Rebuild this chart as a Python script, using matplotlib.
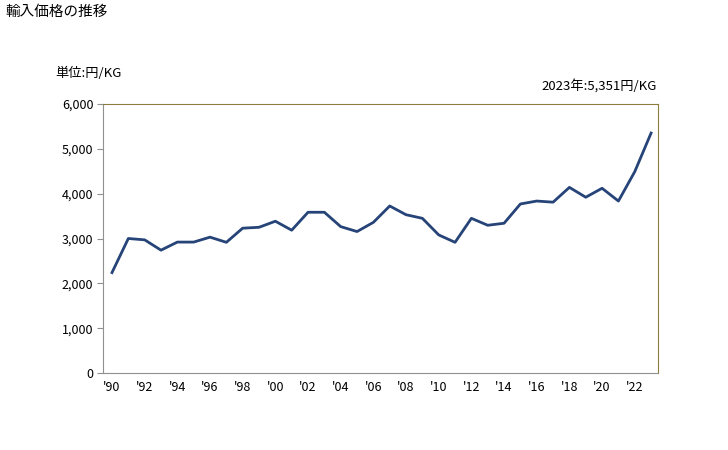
import matplotlib.pyplot as plt
from matplotlib.ticker import FuncFormatter

plt.rcParams['font.family'] = ['Noto Sans CJK JP', 'DejaVu Sans']

years = list(range(1990, 2024))
prices = [2240, 3000, 2970, 2740, 2920, 2920, 3030, 2915, 3230, 3250,
          3385, 3185, 3585, 3585, 3265, 3155, 3360, 3725, 3530, 3450,
          3080, 2915, 3450, 3295, 3340, 3770, 3835, 3810, 4140, 3920,
          4120, 3835, 4490, 5351]
xtick_years = list(range(1990, 2024, 2))
yticks = [0, 1000, 2000, 3000, 4000, 5000, 6000]

fig = plt.figure(figsize=(7.28, 4.5), dpi=100)
ax = fig.add_axes([0.1415, 0.171, 0.7625, 0.598])

ax.plot(years, prices, color='#264478', linewidth=2.0)

ax.set_xlim(1989.45, 2023.43)
ax.set_ylim(0, 6000)
ax.set_yticks(yticks)
ax.yaxis.set_major_formatter(FuncFormatter(lambda v, p: f'{int(v):,}'))
ax.set_xticks(xtick_years)
ax.set_xticklabels([f"'{y % 100:02d}" for y in xtick_years])

for side in ['top', 'right']:
    ax.spines[side].set_color('#8C7E3C')
for side in ['left', 'bottom']:
    ax.spines[side].set_color('#909090')
ax.tick_params(axis='y', length=4, color='#909090', labelsize=9, pad=3)
ax.tick_params(axis='x', length=0, labelsize=9, pad=6)

fig.text(5 / 728, 1 - 12 / 450, '輸入価格の推移', fontsize=10.5, va='center', ha='left')
fig.text(55 / 728, 1 - 73 / 450, '単位:円/KG', fontsize=9.5, va='center', ha='left')
fig.text(657 / 728, 1 - 86 / 450, f'{years[-1]}年:{prices[-1]:,}円/KG',
         fontsize=9.5, va='center', ha='right')

fig.savefig('out.png', dpi=100)
